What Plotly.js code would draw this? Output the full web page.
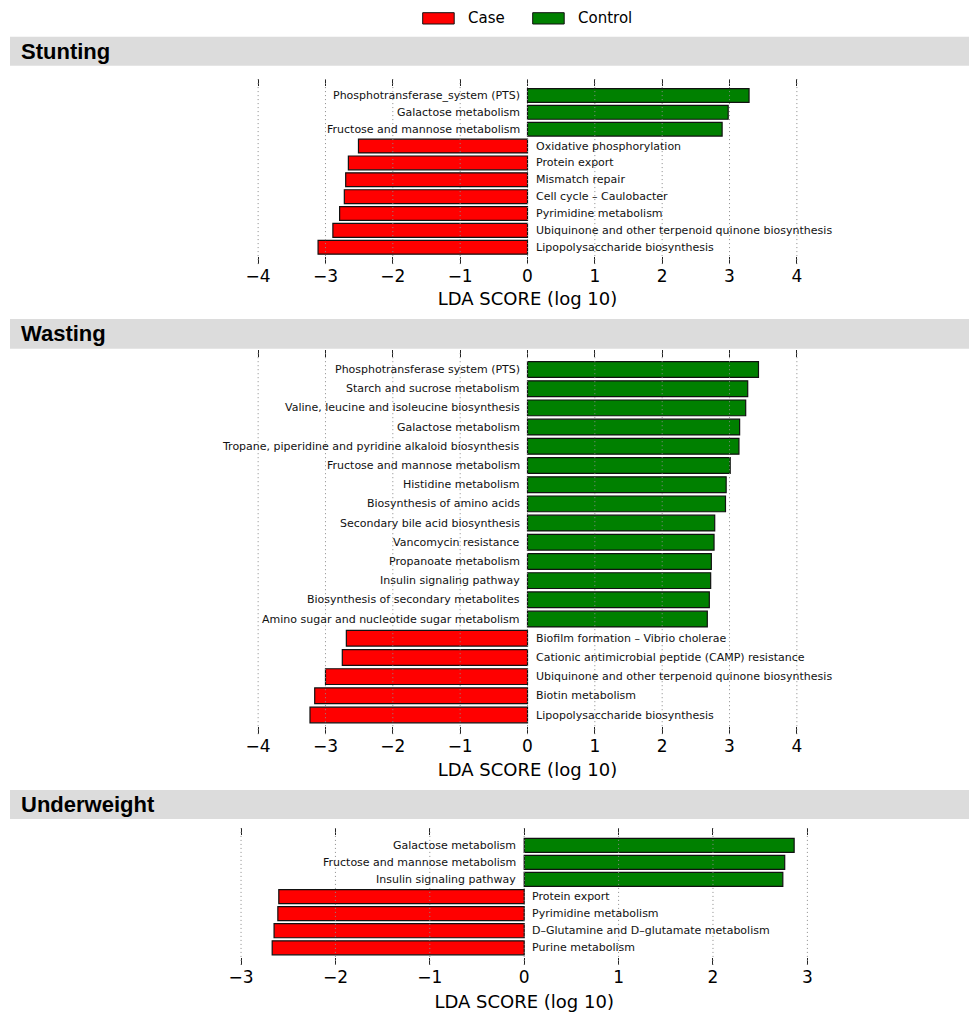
<!DOCTYPE html>
<html>
<head>
<meta charset="utf-8">
<script src="https://cdn.plot.ly/plotly-3.0.1.min.js"></script>
<style>html,body{margin:0;padding:0;background:#fff}</style>
</head>
<body>
<div id="chart" style="width:969px;height:1016px"></div>
<script>
// LDA effect sizes (log10) of KEGG pathways, positive = enriched in Control, negative = enriched in Case
const groupNames = ["Stunting", "Wasting", "Underweight"];

const stuntingPathways = [
  "Phosphotransferase_system (PTS)",
  "Galactose metabolism",
  "Fructose and mannose metabolism",
  "Oxidative phosphorylation",
  "Protein export",
  "Mismatch repair",
  "Cell cycle – Caulobacter",
  "Pyrimidine metabolism",
  "Ubiquinone and other terpenoid quinone biosynthesis",
  "Lipopolysaccharide biosynthesis"
];
const stuntingLDA = [3.29, 2.98, 2.89, -2.51, -2.66, -2.70, -2.72, -2.79, -2.89, -3.11];

const wastingPathways = [
  "Phosphotransferase system (PTS)",
  "Starch and sucrose metabolism",
  "Valine, leucine and isoleucine biosynthesis",
  "Galactose metabolism",
  "Tropane, piperidine and pyridine alkaloid biosynthesis",
  "Fructose and mannose metabolism",
  "Histidine metabolism",
  "Biosynthesis of amino acids",
  "Secondary bile acid biosynthesis",
  "Vancomycin resistance",
  "Propanoate metabolism",
  "Insulin signaling pathway",
  "Biosynthesis of secondary metabolites",
  "Amino sugar and nucleotide sugar metabolism",
  "Biofilm formation – Vibrio cholerae",
  "Cationic antimicrobial peptide (CAMP) resistance",
  "Ubiquinone and other terpenoid quinone biosynthesis",
  "Biotin metabolism",
  "Lipopolysaccharide biosynthesis"
];
const wastingLDA = [3.43, 3.27, 3.24, 3.15, 3.14, 3.01, 2.95, 2.94, 2.78, 2.77, 2.73, 2.72, 2.70, 2.67,
                    -2.69, -2.75, -3.00, -3.16, -3.23];

const underweightPathways = [
  "Galactose metabolism",
  "Fructose and mannose metabolism",
  "Insulin signaling pathway",
  "Protein export",
  "Pyrimidine metabolism",
  "D–Glutamine and D–glutamate metabolism",
  "Purine metabolism"
];
const underweightLDA = [2.86, 2.76, 2.74, -2.60, -2.61, -2.65, -2.67];

const ticksWide = [-4, -3, -2, -1, 0, 1, 2, 3, 4];
const ticksNarrow = [-3, -2, -1, 0, 1, 2, 3];

const caseName = "Case";
const controlName = "Control";
const axisTitle = "LDA SCORE (log 10)";

// ---- styling ----
const CASE_COLOR = "#ff0000";
const CONTROL_COLOR = "#008000";
const BAND_COLOR = "#dcdcdc";
const W = 969, H = 1016;
const fx = x => x / W;          // pixel -> paper (x)
const fy = y => 1 - y / H;      // pixel -> paper (y)
const baseFont = "DejaVu Sans, Verdana, sans-serif";
const headFont = "Liberation Sans, Arial, Helvetica, sans-serif";

const panels = [
  { name: groupNames[0], paths: stuntingPathways, lda: stuntingLDA, ticks: ticksWide,
    xr: [-4.1, 4.1], xpx: [251.4, 803.6], ypx: [78.6, 264.1], band: [36.7, 65.7], standoff: 7 },
  { name: groupNames[1], paths: wastingPathways, lda: wastingLDA, ticks: ticksWide,
    xr: [-4.1, 4.1], xpx: [251.4, 803.6], ypx: [350.3, 734.2], band: [319, 348.7], standoff: 8 },
  { name: groupNames[2], paths: underweightPathways, lda: underweightLDA, ticks: ticksNarrow,
    xr: [-3.1, 3.1], xpx: [231.6, 816.8], ypx: [828.2, 964.9], band: [790, 819], standoff: 9 }
];

const traces = [];
const shapes = [];
const annotations = [];
const layout = {
  width: W, height: H,
  margin: { l: 0, r: 0, t: 0, b: 0 },
  paper_bgcolor: "#ffffff",
  plot_bgcolor: "rgba(0,0,0,0)",
  showlegend: false,
  barmode: "relative",
  font: { family: baseFont, color: "#000" }
};

panels.forEach((p, i) => {
  const sfx = i === 0 ? "" : String(i + 1);
  const xa = "x" + sfx, ya = "y" + sfx;

  const caseIdx = p.lda.map((v, k) => k).filter(k => p.lda[k] < 0);
  const ctrlIdx = p.lda.map((v, k) => k).filter(k => p.lda[k] > 0);

  [[caseIdx, caseName, CASE_COLOR], [ctrlIdx, controlName, CONTROL_COLOR]].forEach(([idx, nm, col]) => {
    traces.push({
      type: "bar", orientation: "h", name: nm,
      x: idx.map(k => p.lda[k]), y: idx.map(k => p.paths[k]),
      xaxis: xa, yaxis: ya, width: 0.82,
      marker: { color: col, line: { color: "#111", width: 1.2 } },
      hovertemplate: "%{y}: %{x}<extra>" + nm + "</extra>"
    });
  });

  layout["xaxis" + sfx] = {
    domain: [fx(p.xpx[0]), fx(p.xpx[1])], range: p.xr, anchor: ya,
    tickmode: "array", tickvals: p.ticks,
    ticks: "inside", ticklen: 7, tickwidth: 1, tickcolor: "#222", mirror: "ticks",
    showline: false, showgrid: false, zeroline: false,
    tickfont: { family: baseFont, size: 17, color: "#000" },
    title: { text: axisTitle, font: { family: baseFont, size: 18, color: "#000" }, standoff: p.standoff },
    fixedrange: true
  };
  layout["yaxis" + sfx] = {
    domain: [fy(p.ypx[1]), fy(p.ypx[0])], anchor: xa,
    type: "category", categoryorder: "array", categoryarray: p.paths,
    range: [p.paths.length, -1],
    showticklabels: false, ticks: "", showgrid: false, zeroline: false, showline: false,
    fixedrange: true
  };

  // dotted grid drawn over the bars
  p.ticks.forEach(t => {
    shapes.push({
      type: "line", layer: "above", xref: xa, yref: ya + " domain",
      x0: t, x1: t, y0: 0, y1: 1,
      line: { color: "#8a8a8a", width: 1, dash: "1px,3px" }
    });
  });

  // pathway names next to the zero line
  p.paths.forEach((name, k) => {
    const pos = p.lda[k] > 0;
    annotations.push({
      xref: xa, yref: ya, x: 0, y: name, text: name, showarrow: false,
      xanchor: pos ? "right" : "left", yanchor: "middle", xshift: pos ? -6 : 6,
      font: { family: baseFont, size: 11, color: "#111" }
    });
  });

  // group header band
  shapes.push({
    type: "rect", layer: "below", xref: "paper", yref: "paper",
    x0: fx(10), x1: 1, y0: fy(p.band[1]), y1: fy(p.band[0]),
    fillcolor: BAND_COLOR, line: { width: 0 }
  });
  annotations.push({
    xref: "paper", yref: "paper", x: fx(19), y: fy((p.band[0] + p.band[1]) / 2),
    xanchor: "left", yanchor: "middle", showarrow: false, text: "<b>" + p.name + "</b>",
    font: { family: headFont, size: 22, color: "#000" }
  });
});

// legend keys
[[caseName, CASE_COLOR, 422.7, 466], [controlName, CONTROL_COLOR, 532.7, 576]].forEach(([nm, col, bx, tx]) => {
  shapes.push({
    type: "rect", xref: "paper", yref: "paper",
    x0: fx(bx), x1: fx(bx + 31.5), y0: fy(24), y1: fy(12.7),
    fillcolor: col, line: { color: "#111", width: 1 }
  });
  annotations.push({
    xref: "paper", yref: "paper", x: fx(tx), y: fy(18.4), xanchor: "left", yanchor: "middle",
    showarrow: false, text: nm, font: { family: baseFont, size: 15, color: "#000" }
  });
});

layout.shapes = shapes;
layout.annotations = annotations;

Plotly.newPlot("chart", traces, layout, { displayModeBar: false, staticPlot: true });
</script>
</body>
</html>
